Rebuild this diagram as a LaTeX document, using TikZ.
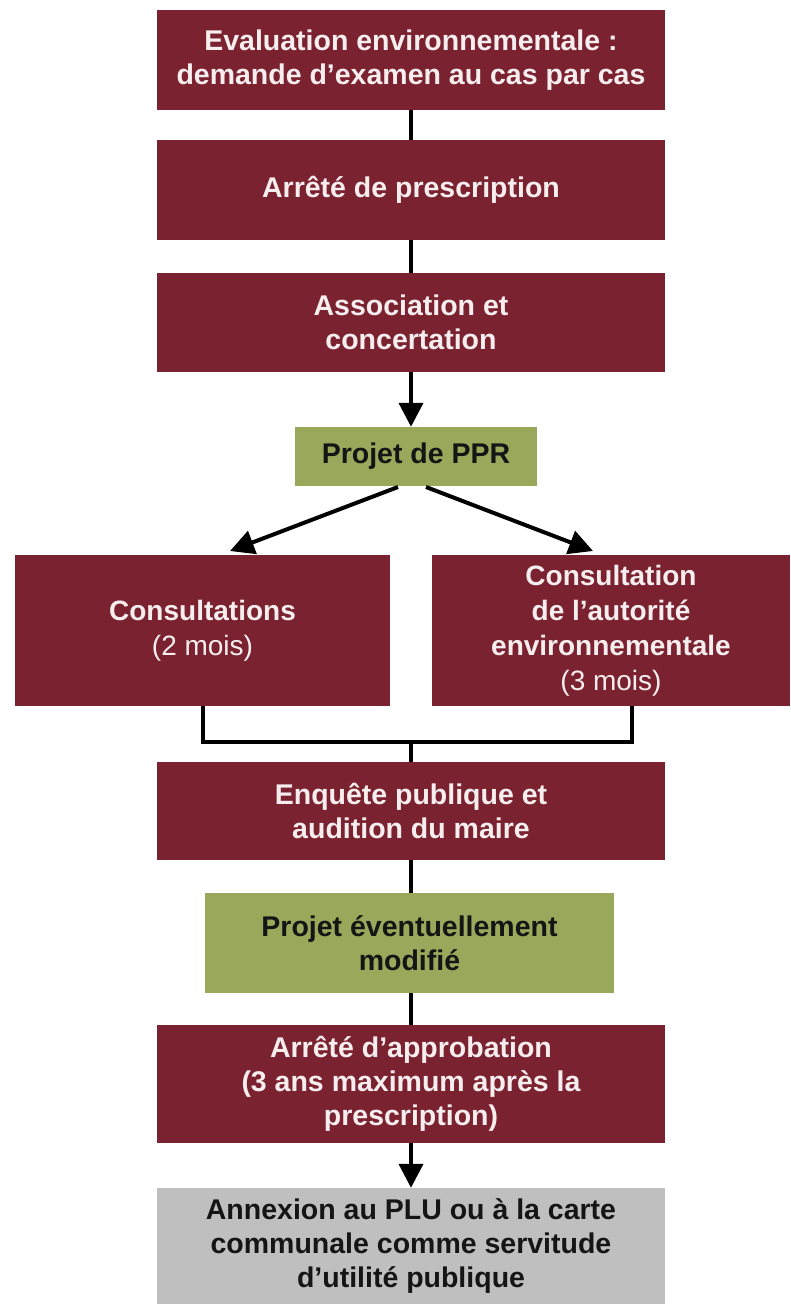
\documentclass[tikz,border=0pt]{standalone}
\usepackage{fontspec}
\setmainfont{Liberation Sans}
\usetikzlibrary{arrows.meta}
\definecolor{bord}{HTML}{7B2230}
\definecolor{olive}{HTML}{9AA85B}
\definecolor{grise}{HTML}{BFBFBF}
\definecolor{pale}{HTML}{F6EEEE}
\definecolor{dark}{HTML}{151515}
\begin{document}
\begin{tikzpicture}[x=1pt,y=-1pt,
  base/.style={rectangle, inner sep=0pt, align=center, font=\bfseries\fontsize{28.5}{34}\selectfont},
  redbox/.style={base, fill=bord, text=pale},
  greenbox/.style={base, fill=olive, text=dark},
  greybox/.style={base, fill=grise, text=dark},
  conn/.style={line width=4pt, black},
  arr/.style={conn, -{Triangle[length=24pt,width=24pt]}}
]
\useasboundingbox (0,0) rectangle (791,1304);
\node[redbox, minimum width=508pt, minimum height=100pt] (b1) at (411,60) {Evaluation environnementale :\\demande d’examen au cas par cas};
\node[redbox, minimum width=508pt, minimum height=100pt] (b2) at (411,190) {Arrêté de prescription};
\node[redbox, minimum width=508pt, minimum height=99pt] (b3) at (411,322.5) {Association et\\concertation};
\node[greenbox, minimum width=242pt, minimum height=59pt] (g1) at (416,456.5) {Projet de PPR};
\node[redbox, minimum width=375pt, minimum height=151pt, font=\fontsize{28}{35}\selectfont] (c1) at (202.5,630.5) {\textbf{Consultations}\\(2 mois)};
\node[redbox, minimum width=358pt, minimum height=151pt, font=\fontsize{28}{35}\selectfont] (c2) at (611,630.5) {\textbf{Consultation}\\\textbf{de l’autorité}\\\textbf{environnementale}\\(3 mois)};
\node[redbox, minimum width=508pt, minimum height=98pt] (e1) at (411,811) {Enquête publique et\\audition du maire};
\node[greenbox, minimum width=409pt, minimum height=100pt] (g2) at (409.5,943) {Projet éventuellement\\modifié};
\node[redbox, minimum width=508pt, minimum height=118pt] (a1) at (411,1084) {Arrêté d’approbation\\(3 ans maximum après la\\prescription)};
\node[greybox, minimum width=508pt, minimum height=116pt] (x1) at (411,1246) {Annexion au PLU ou à la carte\\communale comme servitude\\d’utilité publique};

\draw[conn] (b1.south) -- (b2.north);
\draw[conn] (b2.south) -- (b3.north);
\draw[arr] (b3.south) -- (b3.south |- g1.north);
\coordinate (gl) at (398,487);
\coordinate (gr) at (426,487);
\coordinate (tl) at (230,551);
\coordinate (tr) at (593,551);
\draw[arr] (gl) -- (tl);
\draw[arr] (gr) -- (tr);
\coordinate (jl) at (203,742);
\coordinate (jr) at (632,742);
\coordinate (jm) at (411,742);
\draw[conn] (c1.south -| jl) -- (jl) -- (jr) -- (c2.south -| jr);
\draw[conn] (jm) -- (e1.north);
\draw[conn] (e1.south) -- (e1.south |- g2.north);
\draw[conn] (e1.south |- g2.south) -- (a1.north);
\draw[arr] (a1.south) -- (x1.north);
\end{tikzpicture}
\end{document}
